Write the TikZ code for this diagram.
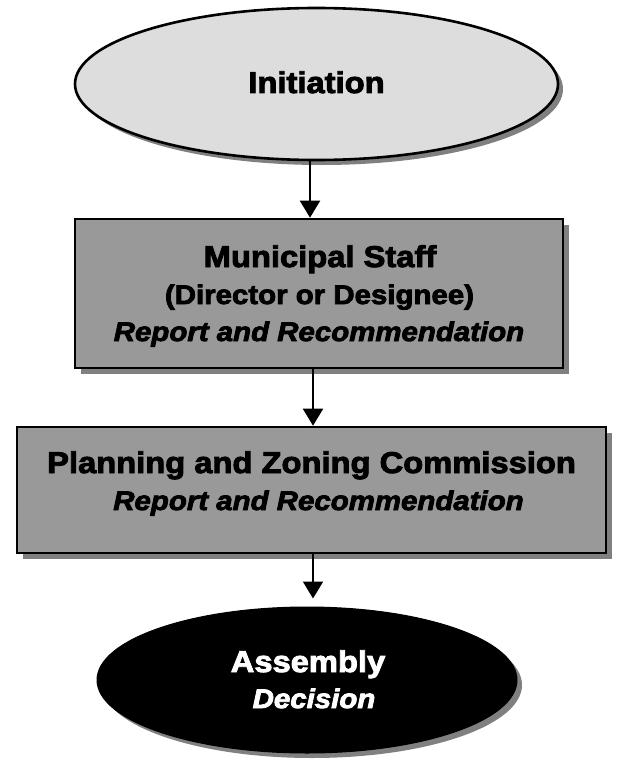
\documentclass[tikz,border=0pt]{standalone}
\usepackage{fontspec}
\setmainfont{Liberation Sans}
\newfontfamily\wsf[FakeStretch=1.09,FakeBold=3]{Liberation Sans}
\usetikzlibrary{arrows.meta,shapes.geometric,shadows}
\definecolor{lightfill}{HTML}{DDDDDD}
\definecolor{boxfill}{HTML}{999999}
\definecolor{shadowgray}{HTML}{808080}
\tikzset{
  x=1pt, y=-1pt,
  sh/.style={drop shadow={shadow xshift=#1, shadow yshift=-#1, fill=shadowgray, opacity=1}},
  startell/.style={ellipse, draw=black, line width=2.6pt, fill=lightfill, inner sep=0pt, sh=5pt},
  endell/.style={ellipse, draw=black, line width=1pt, fill=black, inner sep=0pt, sh=5pt},
  stagebox/.style={rectangle, draw=black, line width=2.6pt, fill=boxfill, inner sep=0pt, sh=6pt},
  bigtxt/.style={anchor=base, inner sep=0pt, font=\wsf\bfseries\fontsize{30}{30}\selectfont},
  smalltxt/.style={anchor=base, inner sep=0pt, font=\wsf\bfseries\fontsize{27}{27}\selectfont},
  itxt/.style={anchor=base, inner sep=0pt, font=\wsf\bfseries\itshape\fontsize{27}{27}\selectfont},
  arr/.style={line width=2pt, -{Triangle[width=20pt,length=17pt]}}
}
\begin{document}
\begin{tikzpicture}
\useasboundingbox (0,0) rectangle (642,781);
% shapes
\node[startell, minimum width=483pt, minimum height=152pt] (init) at (316.5,84) {};
\node[stagebox, minimum width=488pt, minimum height=149pt] (staff) at (319,293.5) {};
\node[stagebox, minimum width=589pt, minimum height=126pt] (pzc) at (311.5,490) {};
\node[endell, minimum width=420pt, minimum height=146pt] (assem) at (307,680) {};
% texts
\node[bigtxt] (t1) at (316.5,93) {Initiation};
\node[bigtxt] (t2) at (320,267) {Municipal Staff};
\node[smalltxt] (t3) at (319.5,304) {(Director or Designee)};
\node[itxt] (t4) at (319,341) {Report and Recommendation};
\node[bigtxt] (t5) at (311.5,473) {Planning and Zoning Commission};
\node[itxt] (t6) at (318.5,510) {Report and Recommendation};
\node[bigtxt, text=white] (t7) at (308,672) {Assembly};
\node[itxt, text=white] (t8) at (314,708) {Decision};
% connectors
\draw[arr] ([xshift=-6.5pt]init.south) -- ([xshift=-9pt]staff.north);
\draw[arr] ([xshift=-6pt]staff.south) -- ([xshift=1.5pt]pzc.north);
\draw[arr] ([xshift=1.5pt]pzc.south) -- ([xshift=6pt,yshift=8pt]assem.north);
\end{tikzpicture}
\end{document}
